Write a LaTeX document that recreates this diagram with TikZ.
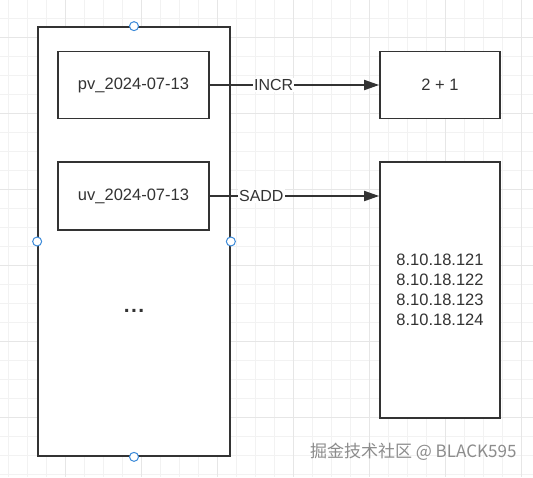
\documentclass[tikz,border=0pt]{standalone}
\usepackage{fontspec}
\setmainfont{Liberation Sans}
\newfontfamily\cjkfont{Noto Sans CJK SC}
\usetikzlibrary{arrows.meta}
\definecolor{ink}{HTML}{333333}
\definecolor{gridminor}{HTML}{F2F2F2}
\definecolor{gridmajor}{HTML}{E6E6E6}
\definecolor{handle}{HTML}{3D8BD9}
\definecolor{wm}{HTML}{8C8C8C}
\tikzset{
  box/.style={draw=ink, line width=1.7pt, fill=white, inner sep=0pt, text=ink,
              font=\fontsize{16.5}{20}\selectfont, align=center},
  conn/.style={draw=ink, line width=1.9pt, -{Triangle[length=15pt,width=10pt]}},
  lbl/.style={fill=white, inner sep=1pt, text=ink, font=\fontsize{16}{19}\selectfont},
  handlept/.style={circle, draw=handle, fill=white, line width=1pt, minimum size=9pt, inner sep=0pt},
}
\begin{document}
\begin{tikzpicture}[x=1pt,y=-1pt]
\useasboundingbox (0,0) rectangle (533,477);
\fill[white] (0,0) rectangle (533,477);
% grid
\foreach \gx in {8,27,...,533} \draw[gridminor, line width=0.8pt] (\gx,0) -- (\gx,477);
\foreach \gy in {-1,18,...,477} \draw[gridminor, line width=0.8pt] (0,\gy) -- (533,\gy);
\foreach \gx in {65,141,217,293,369,445,521} \draw[gridmajor, line width=0.8pt] (\gx,0) -- (\gx,477);
\foreach \gy in {37,113,189,265,341,417} \draw[gridmajor, line width=0.8pt] (0,\gy) -- (533,\gy);

% outer container
\node[box, minimum width=192pt, minimum height=429pt] (outer) at (134,241.5) {};
\node[text=ink, font=\bfseries\fontsize{21}{24}\selectfont] (dots) at (134,311) {.\kern1.5pt.\kern1.5pt.};

% keys
\node[box, minimum width=151pt, minimum height=67pt] (pv) at (133.5,85) {pv\_2024-07-13};
\node[box, minimum width=151pt, minimum height=68pt] (uv) at (133.5,196) {uv\_2024-07-13};

% values
\node[box, minimum width=120pt, minimum height=67pt] (res) at (440,85) {2 + 1};
\node[box, minimum width=120pt, minimum height=256pt] (set) at (440,290)
  {8.10.18.121\\8.10.18.122\\8.10.18.123\\8.10.18.124};

% connectors
\draw[conn] (pv.east) -- node[lbl, pos=0.377] (incr) {INCR} (res.west);
\draw[conn] (uv.east) -- node[lbl, pos=0.304] (sadd) {SADD} (set.west |- uv.east);

% selection handles
\node[handlept] (hn) at (outer.north) {};
\node[handlept] (hw) at (outer.west) {};
\node[handlept] (he) at (outer.east) {};
\node[handlept] (hs) at (outer.south) {};

% watermark
\node[text=wm, font=\cjkfont\fontsize{17}{20}\selectfont, anchor=east] (wmark) at (520,452) {掘金技术社区 @ BLACK595};
\end{tikzpicture}
\end{document}
